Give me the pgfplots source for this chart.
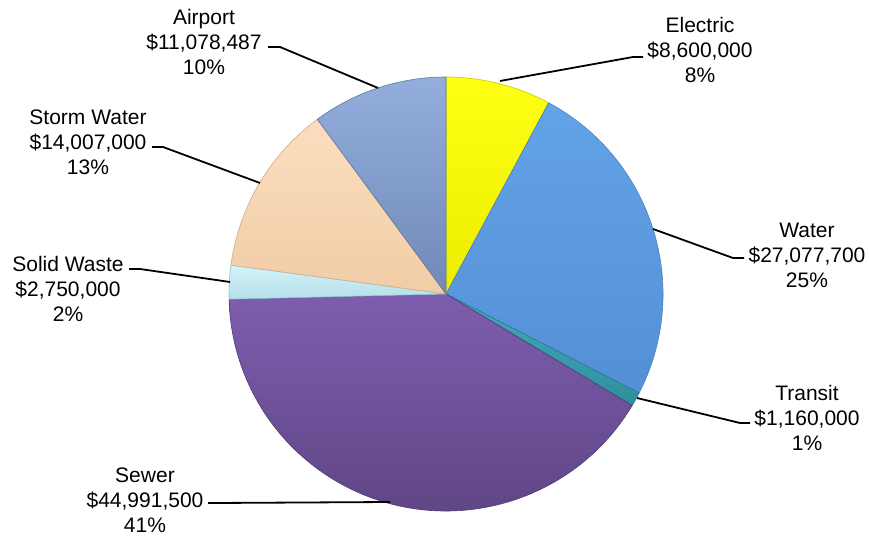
\documentclass[border=0pt]{standalone}
\usepackage{pgfplots}
\usepackage{pgfplotstable}
\pgfplotsset{compat=1.18}
\usepackage{fontspec}
\setmainfont{Liberation Sans}

% slice colours (top / bottom of gradient / edge)
\definecolor{topa}{HTML}{FFFF14}\definecolor{bota}{HTML}{EDED00}\definecolor{edgea}{HTML}{C9C900}
\definecolor{topb}{HTML}{63A3E8}\definecolor{botb}{HTML}{548FD6}\definecolor{edgeb}{HTML}{4A7FC0}
\definecolor{topc}{HTML}{44AABA}\definecolor{botc}{HTML}{2E8E9E}\definecolor{edgec}{HTML}{277C8A}
\definecolor{topd}{HTML}{7E5DAE}\definecolor{botd}{HTML}{5B4381}\definecolor{edged}{HTML}{503A74}
\definecolor{tope}{HTML}{D4F3F9}\definecolor{bote}{HTML}{B4DFE9}\definecolor{edgee}{HTML}{8DBFCB}
\definecolor{topf}{HTML}{FBDDBE}\definecolor{botf}{HTML}{F1CDA6}\definecolor{edgef}{HTML}{CDAE8C}
\definecolor{topg}{HTML}{93AEDD}\definecolor{botg}{HTML}{7089B7}\definecolor{edgeg}{HTML}{5F77A2}

\tikzset{lbl/.style={font=\fontsize{21bp}{25bp}\selectfont, align=center, text=black, inner sep=0pt}}

% values in millions of dollars, clockwise from 12 o'clock
\pgfplotstableread[col sep=comma]{
name,value
Electric,8.6
Water,27.0777
Transit,1.16
Sewer,44.9915
Solid Waste,2.75
Storm Water,14.007
Airport,11.078487
}\pietable

\begin{document}
\begin{tikzpicture}
% total and angles from the table
\xdef\total{0}
\foreach \i in {0,...,6}{%
  \pgfplotstablegetelem{\i}{value}\of\pietable
  \pgfmathsetmacro\tt{\total+\pgfplotsretval}\xdef\total{\tt}}
\xdef\cum{0}
\foreach \i/\l in {0/a,1/b,2/c,3/d,4/e,5/f,6/g}{%
  \pgfplotstablegetelem{\i}{value}\of\pietable
  \pgfmathsetmacro\ss{90-360*(\cum/\total)}
  \pgfmathsetmacro\cc{\cum+\pgfplotsretval}\xdef\cum{\cc}
  \pgfmathsetmacro\ee{90-360*(\cum/\total)}
  \expandafter\xdef\csname sa\l\endcsname{\ss}
  \expandafter\xdef\csname ea\l\endcsname{\ee}}
\begin{axis}[
  scale only axis, width=869bp, height=536bp,
  xmin=0, xmax=869, ymin=0, ymax=536,
  hide axis, clip=false,
]
\coordinate (BL) at (axis cs:0,0);
\coordinate (TR) at (axis cs:869,536);
\pgfplotsinvokeforeach{a,b,c,d,e,f,g}{
  \shade[top color=top#1, bottom color=bot#1, draw=edge#1, line width=0.6bp]
    (axis cs:446,242) -- ++(\csname sa#1\endcsname:217bp)
    arc[start angle=\csname sa#1\endcsname, end angle=\csname ea#1\endcsname, radius=217bp]
    -- cycle;
}
% leader lines
\addplot[black, line width=1.8bp] coordinates {(500,455) (633,479) (643,479)};
\addplot[black, line width=1.8bp] coordinates {(653,307) (733,278) (744,278)};
\addplot[black, line width=1.8bp] coordinates {(637,138) (740,113) (750,113)};
\addplot[black, line width=1.8bp] coordinates {(390,34) (215,33) (208,33)};
\addplot[black, line width=1.8bp] coordinates {(230,254) (140,267) (129,267)};
\addplot[black, line width=1.8bp] coordinates {(260,353) (163,389) (152,389)};
\addplot[black, line width=1.8bp] coordinates {(378,448) (280,489) (268,489)};
% labels
\node[lbl] at (axis cs:700,486) {Electric\\\$8,600,000\\8\%};
\node[lbl] at (axis cs:807,281) {Water\\\$27,077,700\\25\%};
\node[lbl] at (axis cs:807,118) {Transit\\\$1,160,000\\1\%};
\node[lbl] at (axis cs:145,36) {Sewer\\\$44,991,500\\41\%};
\node[lbl] at (axis cs:68,247) {Solid Waste\\\$2,750,000\\2\%};
\node[lbl] at (axis cs:88,394) {Storm Water\\\$14,007,000\\13\%};
\node[lbl] at (axis cs:204,494) {Airport\\\$11,078,487\\10\%};
\end{axis}
\pgfresetboundingbox
\path (BL) rectangle (TR);
\end{tikzpicture}
\end{document}
